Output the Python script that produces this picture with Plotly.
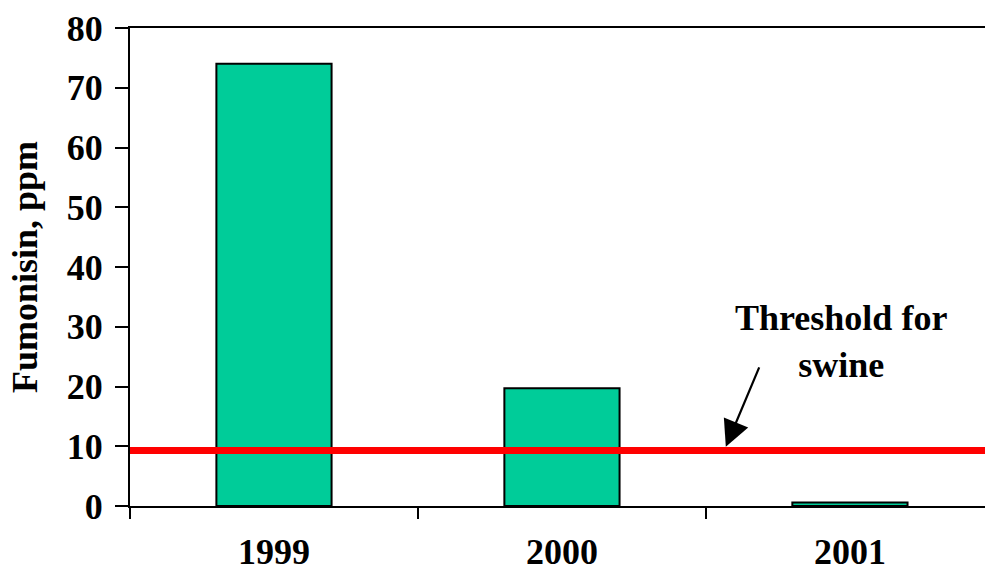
import plotly.graph_objects as go

# Fumonisin levels by harvest year
years = ["1999", "2000", "2001"]
fumonisin_ppm = [74.0, 19.7, 0.6]
swine_threshold = 9.3
y_ticks = [0, 10, 20, 30, 40, 50, 60, 70, 80]

FONT = "Liberation Serif, Times New Roman, serif"
BAR_GREEN = "#00CC99"

fig = go.Figure()

fig.add_trace(go.Bar(
    x=years,
    y=fumonisin_ppm,
    width=0.4,
    marker=dict(color=BAR_GREEN, line=dict(color="black", width=2)),
    showlegend=False,
    hoverinfo="x+y",
))

# Threshold line across the whole plot
fig.add_shape(
    type="line", xref="paper", yref="y",
    x0=0, x1=1, y0=swine_threshold, y1=swine_threshold,
    line=dict(color="#FF0000", width=7),
    layer="above",
)

# Label and arrow pointing to the threshold line
fig.add_annotation(
    x=1.97, y=27.5, xref="x", yref="y",
    text="<b>Threshold for<br>swine</b>",
    showarrow=False,
    font=dict(family=FONT, size=36, color="black"),
    align="center",
)
fig.add_annotation(
    x=1.569, y=swine_threshold + 0.6, xref="x", yref="y",
    ax=34, ay=-81,
    text="",
    showarrow=True,
    arrowhead=2, arrowsize=2.4, arrowwidth=2.2, arrowcolor="black",
)

# Y-axis title
fig.add_annotation(
    x=-105 / 855, y=0.5, xref="paper", yref="paper",
    xanchor="center", yanchor="middle",
    text="<b>Fumonisin, ppm</b>",
    textangle=-90, showarrow=False,
    font=dict(family=FONT, size=36, color="black"),
)

fig.update_layout(
    width=985, height=574,
    margin=dict(l=130, r=0, t=28, b=68, autoexpand=False),
    paper_bgcolor="white", plot_bgcolor="white",
    font=dict(family=FONT, size=36, color="black"),
    bargap=0.6,
)

fig.update_xaxes(
    type="category",
    range=[-0.5, 2.469],
    tickvals=years,
    ticktext=[f"<b>{y}</b>" for y in years],
    showline=True, linecolor="black", linewidth=2, mirror=True,
    ticks="outside", tickson="boundaries", ticklen=11, tickwidth=2, tickcolor="black",
    ticklabelstandoff=13,
    tickfont=dict(family=FONT, size=36, color="black"),
    showgrid=False, zeroline=False,
    automargin=False,
)
fig.update_yaxes(
    range=[0, 80],
    tickvals=y_ticks,
    ticktext=[f"<b>{v}</b>" for v in y_ticks],
    showline=True, linecolor="black", linewidth=2,
    ticks="outside", ticklen=13, tickwidth=2, tickcolor="black",
    ticklabelstandoff=5,
    tickfont=dict(family=FONT, size=36, color="black"),
    showgrid=False, zeroline=False,
    automargin=False,
)

fig.write_html("out.html")
